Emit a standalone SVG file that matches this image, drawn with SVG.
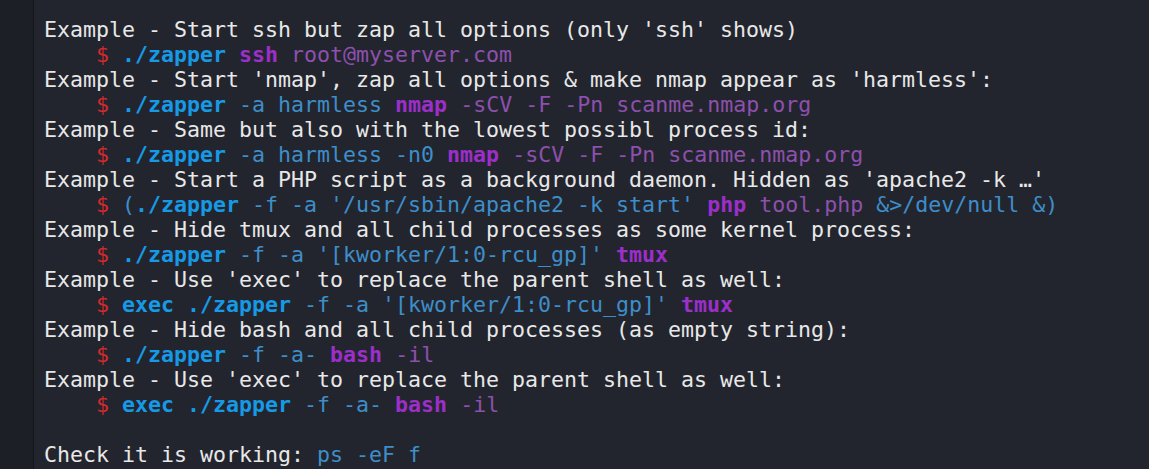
<svg xmlns="http://www.w3.org/2000/svg" width="1149" height="469" viewBox="0 0 1149 469">
<style>
text{font-family:"DejaVu Sans Mono","Liberation Mono",monospace;font-size:21.6px;white-space:pre;fill:#e8e8e8}
.r{fill:#d3292c}.b{fill:#169ae6;font-weight:bold}.o{fill:#3d8ec9}.p{fill:#9c2fc9;font-weight:bold}.a{fill:#8d50ad}
</style>
<rect width="1149" height="469" fill="#23252e"/>
<rect width="33" height="469" fill="#1d1f26"/>
<line x1="33.5" y1="0" x2="33.5" y2="469" stroke="#15161b"/>
<g id="lines">
<text x="44" y="37">Example - Start ssh but zap all options (only 'ssh' shows)</text>
<text x="44" y="62">    <tspan class="r">$</tspan> <tspan class="b">./zapper</tspan> <tspan class="p">ssh</tspan> <tspan class="a">root@myserver.com</tspan></text>
<text x="44" y="87">Example - Start 'nmap', zap all options &amp; make nmap appear as 'harmless':</text>
<text x="44" y="112">    <tspan class="r">$</tspan> <tspan class="b">./zapper</tspan> <tspan class="o">-a harmless</tspan> <tspan class="p">nmap</tspan> <tspan class="a">-sCV -F -Pn scanme.nmap.org</tspan></text>
<text x="44" y="137">Example - Same but also with the lowest possibl process id:</text>
<text x="44" y="162">    <tspan class="r">$</tspan> <tspan class="b">./zapper</tspan> <tspan class="o">-a harmless -n0</tspan> <tspan class="p">nmap</tspan> <tspan class="a">-sCV -F -Pn scanme.nmap.org</tspan></text>
<text x="44" y="187">Example - Start a PHP script as a background daemon. Hidden as 'apache2 -k …'</text>
<text x="44" y="212">    <tspan class="r">$</tspan> <tspan class="o">(</tspan><tspan class="b">./zapper</tspan> <tspan class="o">-f -a '/usr/sbin/apache2 -k start'</tspan> <tspan class="p">php</tspan> <tspan class="a">tool.php</tspan> <tspan class="o">&amp;&gt;/dev/null &amp;)</tspan></text>
<text x="44" y="237">Example - Hide tmux and all child processes as some kernel process:</text>
<text x="44" y="262">    <tspan class="r">$</tspan> <tspan class="b">./zapper</tspan> <tspan class="o">-f -a '[kworker/1:0-rcu_gp]'</tspan> <tspan class="p">tmux</tspan></text>
<text x="44" y="287">Example - Use 'exec' to replace the parent shell as well:</text>
<text x="44" y="312">    <tspan class="r">$</tspan> <tspan class="b">exec ./zapper</tspan> <tspan class="o">-f -a '[kworker/1:0-rcu_gp]'</tspan> <tspan class="p">tmux</tspan></text>
<text x="44" y="337">Example - Hide bash and all child processes (as empty string):</text>
<text x="44" y="362">    <tspan class="r">$</tspan> <tspan class="b">./zapper</tspan> <tspan class="o">-f -a-</tspan> <tspan class="p">bash</tspan> <tspan class="a">-il</tspan></text>
<text x="44" y="387">Example - Use 'exec' to replace the parent shell as well:</text>
<text x="44" y="412">    <tspan class="r">$</tspan> <tspan class="b">exec ./zapper</tspan> <tspan class="o">-f -a-</tspan> <tspan class="p">bash</tspan> <tspan class="a">-il</tspan></text>
<text x="44" y="462">Check it is working: <tspan class="o">ps -eF f</tspan></text>
</g>
</svg>
